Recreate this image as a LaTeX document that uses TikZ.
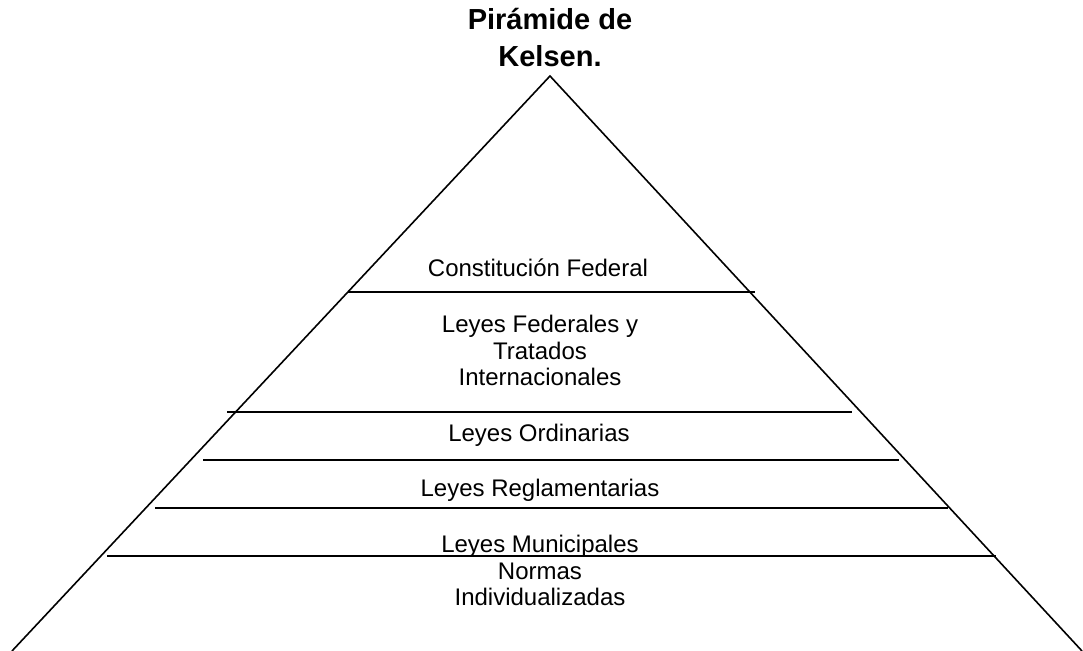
\documentclass[tikz,border=0pt]{standalone}
\usepackage{fontspec}
\setmainfont{Liberation Sans}
\usepackage{tikz}
\usetikzlibrary{positioning,calc}

\begin{document}
\begin{tikzpicture}[x=0.5pt, y=-0.5pt,
    lado/.style={black, line width=0.8pt},
    capa/.style={black, line width=1pt},
    titulo/.style={font=\bfseries\fontsize{14.5}{18.5}\selectfont, align=center, inner sep=0pt},
    nivel/.style={font=\fontsize{12}{13.4}\selectfont, align=center, inner sep=0pt}]
        \useasboundingbox (0,0) rectangle (1083,651);
        % pyramid outline
        \coordinate (cima) at (550,76);
        \coordinate (baseizq) at (12,651);
        \coordinate (baseder) at (1082,651);
        \draw[lado] (baseizq) -- (cima) -- (baseder);
        % layers
        \foreach \i/\yy/\xl/\xr in {1/292/348/755, 2/412/227/852, 3/460/203/899,
                                   4/508/155/948, 5/556/107/996} {
          \coordinate (izq\i) at (\xl,\yy);
          \coordinate (der\i) at (\xr,\yy);
          \draw[capa] (izq\i) -- (der\i);
        }
        % labels (base = last line)
        \node[titulo, anchor=base] (titulo) at (550,67) {Pirámide de\\Kelsen.};
        \node[nivel, anchor=base] (constitucion) at (538,277) {Constitución Federal};
        \node[nivel, anchor=base] (federales) at (540,386)
          {Leyes Federales y\\Tratados\\Internacionales};
        \node[nivel, anchor=base] (ordinarias) at (539,442) {Leyes Ordinarias};
        \node[nivel, anchor=base] (reglamentarias) at (540,497) {Leyes Reglamentarias};
        \node[nivel, anchor=base] (municipales) at (540,606)
          {Leyes Municipales\\Normas\\Individualizadas};
      \end{tikzpicture}
\end{document}
